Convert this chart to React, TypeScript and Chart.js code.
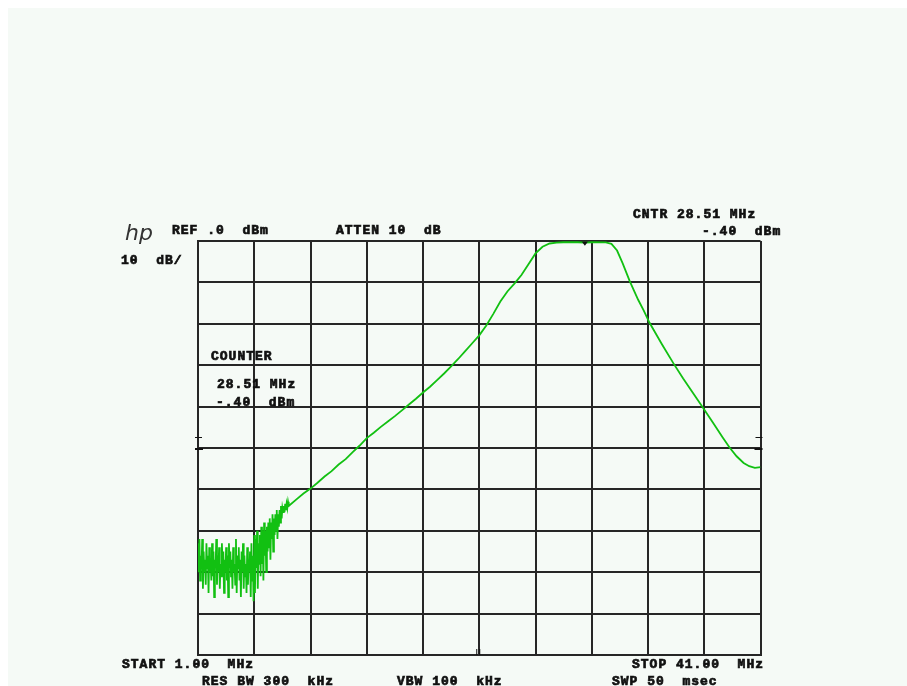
import React, { useEffect, useRef } from "react";
import { Chart, registerables } from "chart.js";

Chart.register(...registerables);

// ---- axis settings (spectrum analyser) ----
const START_MHZ = 1;
const STOP_MHZ = 41;
const MHZ_PER_DIV = 4;
const REF_DBM = 0;
const BOTTOM_DBM = -100;
const DB_PER_DIV = 10;

// ---- noise floor / lower skirt: sweep samples every 0.05 MHz from 1.00 MHz ----
const NOISE_START_MHZ = 1.0;
const NOISE_STEP_MHZ = 0.05;
const noiseLevels = [
  -73, -80, -72, -82, -76, -79, -72, -84, -75, -80,
  -77, -83, -73, -79, -76, -85, -74, -80, -78, -82,
  -73, -81, -75, -86, -77, -79, -72, -83, -76, -80,
  -74, -84, -78, -81, -73, -79, -75, -85, -77, -80,
  -74, -82, -76, -86, -73, -79, -75, -81, -77, -84,
  -74, -80, -78, -83, -72, -85, -76, -79, -74, -82,
  -77, -86, -75, -80, -73, -84, -76, -81, -78, -85,
  -74, -83, -77, -80, -75, -86, -73, -82, -76, -87,
  -71, -85, -72, -79, -70, -84, -73, -78, -71, -81,
  -69, -78, -70, -82, -68, -76, -70, -80, -69, -75,
  -68, -74, -67, -77, -68, -72, -66, -75, -67, -71,
  -66, -70, -65, -72, -66, -69, -65, -68, -64, -67,
  -64.5, -65.5, -64, -65.5, -63.5, -65, -63.5, -64.5, -63, -64,
];

// ---- smooth part of the filter response ----
const traceFreqs = [
  8.0, 8.5, 9.0, 9.5, 10.0, 10.5, 11.0, 11.5, 12.0, 12.5,
  13.0, 13.5, 14.0, 14.5, 15.0, 15.5, 16.0, 16.5, 17.0, 17.5,
  18.0, 18.5, 19.0, 19.5, 20.0, 20.5, 21.0, 21.5, 22.0, 22.5,
  23.0, 23.5, 24.0, 24.5, 25.0, 25.5, 26.0, 26.5, 27.0, 28.0,
  28.51, 29.0, 30.0, 30.4, 30.8, 31.2, 31.7, 32.3, 32.7, 33.1,
  34.0, 34.8, 35.5, 36.2, 36.9, 37.6, 38.3, 38.8, 39.3, 39.8,
  40.2, 40.6, 41.0,
];
const traceLevels = [
  -62.4, -61.0, -59.8, -58.4, -56.9, -55.6, -54.0, -52.7, -51.0, -49.4,
  -47.6, -46.3, -44.9, -43.6, -42.3, -40.9, -39.5, -38.1, -36.6, -35.2,
  -33.6, -32.0, -30.3, -28.5, -26.6, -24.7, -22.8, -20.4, -17.6, -14.6,
  -12.2, -10.3, -8.2, -5.6, -3.0, -1.4, -0.6, -0.4, -0.3, -0.3,
  -0.4, -0.3, -0.35, -0.7, -2.3, -5.4, -9.7, -14.2, -16.8, -19.7,
  -25.0, -29.5, -33.2, -36.7, -40.2, -43.8, -47.4, -49.9, -52.0, -53.6,
  -54.4, -54.8, -54.6,
];

// ---- marker / counter readout ----
const MARKER_MHZ = 28.51;
const MARKER_DBM = -0.4;

// ---- annotation texts ----
const topLeftTexts = ["REF .0  dBm", "ATTEN 10  dB", "10  dB/"];
const topRightTexts = ["CNTR 28.51 MHz", "-.40  dBm"];
const counterTexts = ["COUNTER", "28.51 MHz", "-.40  dBm"];
const bottomTexts = ["START 1.00  MHz", "STOP 41.00  MHz", "RES BW 300  kHz", "VBW 100  kHz", "SWP 50  msec"];

const BG = "rgb(245,250,246)";
const INK = "#111111";
const GRID = "#262626";
const TRACE = "#12c012";

export default function App() {
  const ref = useRef<HTMLCanvasElement | null>(null);

  useEffect(() => {
    const canvas = ref.current;
    if (!canvas) return;

    const points: { x: number; y: number }[] = [];
    noiseLevels.forEach((v, i) => {
      points.push({ x: +(NOISE_START_MHZ + i * NOISE_STEP_MHZ).toFixed(2), y: v });
    });
    traceFreqs.forEach((f, i) => points.push({ x: f, y: traceLevels[i] }));

    const decor = {
      id: "decor",
      beforeDraw(chart: any) {
        const c = chart.ctx;
        c.save();
        c.fillStyle = "#ffffff";
        c.fillRect(0, 0, chart.width, chart.height);
        c.fillStyle = BG;
        c.fillRect(8, 8, chart.width - 8, chart.height - 8);
        c.restore();
      },
      afterDraw(chart: any) {
        const c = chart.ctx;
        const xs = chart.scales.x;
        const ys = chart.scales.y;
        const area = chart.chartArea;
        c.save();
        c.fillStyle = INK;
        c.strokeStyle = INK;
        c.lineWidth = 0.7;
        c.textBaseline = "middle";
        c.textAlign = "left";
        c.font = "bold 13px 'Liberation Mono'";
        try { (c as any).letterSpacing = "1px"; } catch (e) {}
        const put = (t: string, x: number, y: number) => {
          c.fillText(t, x, y);
          c.strokeText(t, x, y);
        };
        put(topLeftTexts[0], 172, 231);
        put(topLeftTexts[1], 336, 231);
        put(topLeftTexts[2], 121, 261);
        put(topRightTexts[0], 633, 215);
        put(topRightTexts[1], 702, 232);
        put(counterTexts[0], 211, 357);
        put(counterTexts[1], 217, 385);
        put(counterTexts[2], 216, 403);
        put(bottomTexts[0], 122, 665);
        put(bottomTexts[1], 632, 665);
        put(bottomTexts[2], 202, 682);
        put(bottomTexts[3], 397, 682);
        put(bottomTexts[4], 612, 682);

        // hp logo
        try { (c as any).letterSpacing = "0px"; } catch (e) {}
        c.font = "italic 22px 'DejaVu Sans'";
        c.textBaseline = "alphabetic";
        c.fillStyle = "#333";
        c.fillText("hp", 125, 240);

        // reference level ticks on both edges
        c.strokeStyle = INK;
        c.lineWidth = 1;
        c.beginPath();
        c.moveTo(area.left - 3, 437.5); c.lineTo(area.left + 4, 437.5);
        c.moveTo(area.right - 5, 437.5); c.lineTo(area.right + 2, 437.5);
        c.stroke();
        c.lineWidth = 2;
        c.beginPath();
        c.moveTo(area.left - 3, 449); c.lineTo(area.left + 5, 449);
        c.moveTo(area.right - 6, 449); c.lineTo(area.right + 2, 449);
        c.stroke();

        // centre frequency tick at bottom
        c.lineWidth = 1;
        const cx = xs.getPixelForValue((START_MHZ + STOP_MHZ) / 2);
        c.beginPath();
        c.moveTo(cx - 2.5, area.bottom - 6); c.lineTo(cx - 2.5, area.bottom);
        c.moveTo(cx + 0.5, area.bottom - 6); c.lineTo(cx + 0.5, area.bottom);
        c.stroke();

        // marker
        const mx = xs.getPixelForValue(MARKER_MHZ);
        const my = ys.getPixelForValue(MARKER_DBM);
        c.fillStyle = INK;
        c.beginPath();
        c.moveTo(mx - 3, my - 1);
        c.lineTo(mx + 3, my - 1);
        c.lineTo(mx, my + 3);
        c.closePath();
        c.fill();
        c.restore();
      },
    };

    const chart = new Chart(canvas, {
      type: "line",
      data: {
        datasets: [
          {
            data: points,
            borderColor: TRACE,
            borderWidth: 1.8,
            pointRadius: 0,
            tension: 0,
            fill: false,
          },
        ],
      },
      options: {
        animation: false,
        responsive: false,
        devicePixelRatio: 1,
        parsing: false as any,
        layout: { padding: { left: 198, top: 241, right: 146.5, bottom: 31 } },
        plugins: { legend: { display: false }, tooltip: { enabled: false } },
        scales: {
          x: {
            type: "linear",
            min: START_MHZ,
            max: STOP_MHZ,
            ticks: { display: false, stepSize: MHZ_PER_DIV },
            grid: { color: GRID, lineWidth: 2, drawTicks: false },
            border: { display: true, color: GRID, width: 2 },
          },
          y: {
            type: "linear",
            min: BOTTOM_DBM,
            max: REF_DBM,
            ticks: { display: false, stepSize: DB_PER_DIV },
            grid: { color: GRID, lineWidth: 2, drawTicks: false },
            border: { display: true, color: GRID, width: 2 },
          },
        },
      },
      plugins: [decor],
    });
    return () => chart.destroy();
  }, []);

  return (
    <div style={{ position: "fixed", left: 0, top: 0, width: 907, height: 686 }}>
      <canvas ref={ref} width={907} height={686} style={{ display: "block", width: 907, height: 686 }} />
    </div>
  );
}
